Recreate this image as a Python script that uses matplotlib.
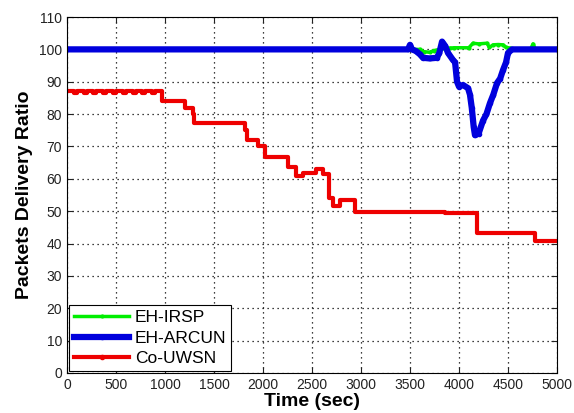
import matplotlib
matplotlib.use('Agg')
import matplotlib.pyplot as plt

# Co-UWSN (red), step-like decay
red_t = [0, 70, 100, 170, 200, 270, 300, 370, 400, 470, 500, 570, 600, 670, 700,
         770, 800, 870, 900, 966, 1204, 1286, 1300, 1816, 1840, 1890, 1950, 2020,
         2255, 2337, 2408, 2540, 2610, 2670, 2710, 2786, 2940, 3860, 4180, 4776, 5000]
red_v = [87, 86.4, 87, 86.4, 87, 86.4, 87, 86.4, 87, 86.4, 87, 86.4, 87, 86.4, 87,
         86.4, 87, 86.4, 87, 84, 82, 80, 77.3, 75, 72, 72, 70, 66.8,
         63.8, 60.9, 61.9, 63, 61.5, 54, 51.6, 53.5, 49.8, 49.3, 43.4, 40.8, 40.8]

# EH-ARCUN (blue)
blue_t = [0, 3480, 3500, 3520, 3560, 3600, 3633, 3700, 3775, 3800, 3827, 3860, 3888,
          3939, 3960, 3980, 4000, 4041, 4092, 4112, 4130, 4150, 4163, 4200, 4245,
          4280, 4316, 4350, 4388, 4420, 4449, 4480, 4500, 4541, 5000]
blue_v = [100, 100, 101.4, 100, 99.5, 98.5, 97.4, 97.2, 97.4, 99, 102.4, 101, 98.9,
          96.7, 96, 90, 88.5, 89, 88, 86, 82, 76, 73.5, 74, 78,
          80, 83.4, 86, 89.6, 91, 93.6, 96, 98.9, 100, 100]

# EH-IRSP (green)
green_t = [0, 3600, 3640, 3700, 3740, 3800, 3908, 3950, 4100, 4143, 4200, 4286, 4310,
           4347, 4400, 4449, 4480, 4520, 4560, 4730, 4755, 4780, 5000]
green_v = [100, 100, 99.3, 99.1, 99.6, 100, 100.4, 100.5, 100.5, 101.9, 101.7, 101.9, 100.6,
           101.4, 101.5, 101.4, 100.6, 100.4, 100, 100, 101.7, 100, 100]

xticks = list(range(0, 5001, 500))
yticks = list(range(0, 111, 10))

plt.rcParams['font.family'] = ['Liberation Sans', 'DejaVu Sans']

fig = plt.figure(figsize=(5.74, 4.13), dpi=100)
ax = fig.add_axes([0.1167, 0.0969, 0.8537, 0.8619])

ax.plot(green_t, green_v, color='#00ee00', linewidth=2.5, marker='.', markersize=4,
        label='EH-IRSP')
ax.plot(blue_t, blue_v, color='#0000dd', linewidth=4.5, marker='.', markersize=6,
        label='EH-ARCUN')
ax.plot(red_t, red_v, color='#ee0000', linewidth=3, drawstyle='steps-post',
        label='Co-UWSN')

ax.set_xlim(0, 5000)
ax.set_ylim(0, 110)
ax.set_xticks(xticks)
ax.set_yticks(yticks)
ax.tick_params(direction='in', top=True, right=True, labelsize=10, length=4,
               colors='#222222')
ax.grid(True, linestyle=(0, (1, 3)), color='black', linewidth=0.9)

ax.set_xlabel('Time (sec)', fontsize=14, fontweight='bold', labelpad=1)
ax.set_ylabel('Packets Delivery Ratio', fontsize=14, fontweight='bold', labelpad=4)

leg = ax.legend(loc='lower left', fontsize=12.5, borderaxespad=0.1, fancybox=False,
                edgecolor='black', framealpha=1, handlelength=3.2,
                labelspacing=0.3, borderpad=0.3, handletextpad=0.3)
leg.get_frame().set_linewidth(0.8)
for h in leg.get_lines():
    h.set_drawstyle('default')
    h.set_marker('.')

fig.savefig('out.png', dpi=100)
